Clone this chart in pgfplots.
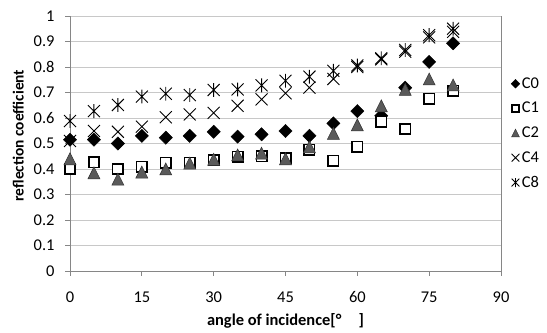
\documentclass[border=0pt]{standalone}
\usepackage{fontspec}
\setmainfont{Carlito}
\usepackage{pgfplots}
\pgfplotsset{compat=1.18}
\definecolor{gridc}{RGB}{200,200,200}
\definecolor{axc}{RGB}{134,134,134}
\definecolor{trig}{RGB}{90,90,90}
\pgfdeclareplotmark{xx}{%
  \pgfpathmoveto{\pgfqpoint{-\pgfplotmarksize}{-\pgfplotmarksize}}%
  \pgfpathlineto{\pgfqpoint{\pgfplotmarksize}{\pgfplotmarksize}}%
  \pgfpathmoveto{\pgfqpoint{-\pgfplotmarksize}{\pgfplotmarksize}}%
  \pgfpathlineto{\pgfqpoint{\pgfplotmarksize}{-\pgfplotmarksize}}%
  \pgfusepathqstroke}
\pgfdeclareplotmark{xstar}{%
  \pgfpathmoveto{\pgfqpoint{-\pgfplotmarksize}{-\pgfplotmarksize}}%
  \pgfpathlineto{\pgfqpoint{\pgfplotmarksize}{\pgfplotmarksize}}%
  \pgfpathmoveto{\pgfqpoint{-\pgfplotmarksize}{\pgfplotmarksize}}%
  \pgfpathlineto{\pgfqpoint{\pgfplotmarksize}{-\pgfplotmarksize}}%
  \pgfpathmoveto{\pgfqpoint{0pt}{-1.15\pgfplotmarksize}}%
  \pgfpathlineto{\pgfqpoint{0pt}{1.15\pgfplotmarksize}}%
  \pgfusepathqstroke}
\pgfdeclareplotmark{tri}{%
  \pgfpathmoveto{\pgfqpoint{0pt}{\pgfplotmarksize}}%
  \pgfpathlineto{\pgfqpoint{-\pgfplotmarksize}{-\pgfplotmarksize}}%
  \pgfpathlineto{\pgfqpoint{\pgfplotmarksize}{-\pgfplotmarksize}}%
  \pgfpathclose
  \pgfusepathqfillstroke}
\pgfdeclareplotmark{dia}{%
  \pgfpathmoveto{\pgfqpoint{0pt}{1.41\pgfplotmarksize}}%
  \pgfpathlineto{\pgfqpoint{1.41\pgfplotmarksize}{0pt}}%
  \pgfpathlineto{\pgfqpoint{0pt}{-1.41\pgfplotmarksize}}%
  \pgfpathlineto{\pgfqpoint{-1.41\pgfplotmarksize}{0pt}}%
  \pgfpathclose
  \pgfusepathqfillstroke}
\begin{document}
\begin{tikzpicture}
\useasboundingbox (0,0) rectangle (547bp,333bp);
\begin{axis}[
  at={(70bp,62bp)}, anchor=south west,
  scale only axis, width=431bp, height=255bp,
  xmin=0, xmax=90, ymin=0, ymax=1,
  xtick={0,15,...,90},
  ytick={0,0.1,...,1},
  yticklabels={0,0.1,0.2,0.3,0.4,0.5,0.6,0.7,0.8,0.9,1},
  ymajorgrids, grid style={gridc, line width=0.8bp},
  axis line style={axc, line width=0.8bp},
  axis x line*=bottom, axis y line*=left,
  tick style={axc, line width=0.8bp},
  tick align=outside, major tick length=5bp,
  xtick pos=bottom, ytick pos=left,
  /pgf/number format/assume math mode=true,
  tick label style={font=\fontsize{16.5}{19}\selectfont, black},
  xticklabel style={yshift=-12bp},
  yticklabel style={xshift=-7bp},
  xlabel={\textbf{angle of incidence[°\hspace{1.05em}]}},
  ylabel={\textbf{reflection coefficient}},
  xlabel style={font=\fontsize{16.5}{19}\selectfont, yshift=-4bp},
  ylabel style={font=\fontsize{15.5}{18}\selectfont, yshift=3bp, xshift=8bp},
  legend style={draw=none, fill=none, at={(1,0.54)}, anchor=west, xshift=10bp,
    font=\fontsize{16.5}{19}\selectfont, row sep=8.5bp, inner sep=0pt},
  legend cell align=left,
  legend image post style={scale=0.65},
  clip=false,
]
\addplot[only marks, mark=dia, mark size=4.7bp, mark options={fill=black, draw=black, line width=0.4bp}] coordinates {
(0,0.515)(5,0.515)(10,0.50)(15,0.53)(20,0.523)(25,0.53)(30,0.546)(35,0.527)(40,0.536)(45,0.549)(50,0.53)(55,0.579)(60,0.627)(65,0.609)(70,0.719)(75,0.82)(80,0.893)};
\addlegendentry{C0}
\addplot[only marks, mark=square*, mark size=5.2bp, mark options={fill=white, draw=black, line width=1.6bp}] coordinates {
(0,0.40)(5,0.427)(10,0.40)(15,0.409)(20,0.425)(25,0.425)(30,0.435)(35,0.448)(40,0.45)(45,0.442)(50,0.475)(55,0.433)(60,0.487)(65,0.585)(70,0.557)(75,0.675)(80,0.707)};
\addlegendentry{C1}
\addplot[only marks, mark=tri, mark size=6bp, mark options={fill=trig, draw=black!80, line width=0.5bp}] coordinates {
(0,0.44)(5,0.385)(10,0.36)(15,0.388)(20,0.40)(25,0.423)(30,0.438)(35,0.455)(40,0.462)(45,0.44)(50,0.487)(55,0.54)(60,0.573)(65,0.648)(70,0.712)(75,0.753)(80,0.73)};
\addlegendentry{C2}
\addplot[only marks, mark=xx, mark size=6bp, mark options={draw=black, line width=0.9bp}] coordinates {
(0,0.51)(5,0.549)(10,0.546)(15,0.566)(20,0.603)(25,0.614)(30,0.62)(35,0.648)(40,0.673)(45,0.697)(50,0.719)(55,0.753)(60,0.80)(65,0.83)(70,0.86)(75,0.916)(80,0.938)};
\addlegendentry{C4}
\addplot[only marks, mark=xstar, mark size=6bp, mark options={draw=black, line width=0.9bp}] coordinates {
(0,0.588)(5,0.627)(10,0.651)(15,0.684)(20,0.695)(25,0.69)(30,0.71)(35,0.712)(40,0.728)(45,0.746)(50,0.762)(55,0.785)(60,0.806)(65,0.834)(70,0.867)(75,0.925)(80,0.95)};
\addlegendentry{C8}
\draw[axc, line width=0.8bp] (axis cs:90,0) -- (axis cs:90,1);
\end{axis}
\end{tikzpicture}
\end{document}
